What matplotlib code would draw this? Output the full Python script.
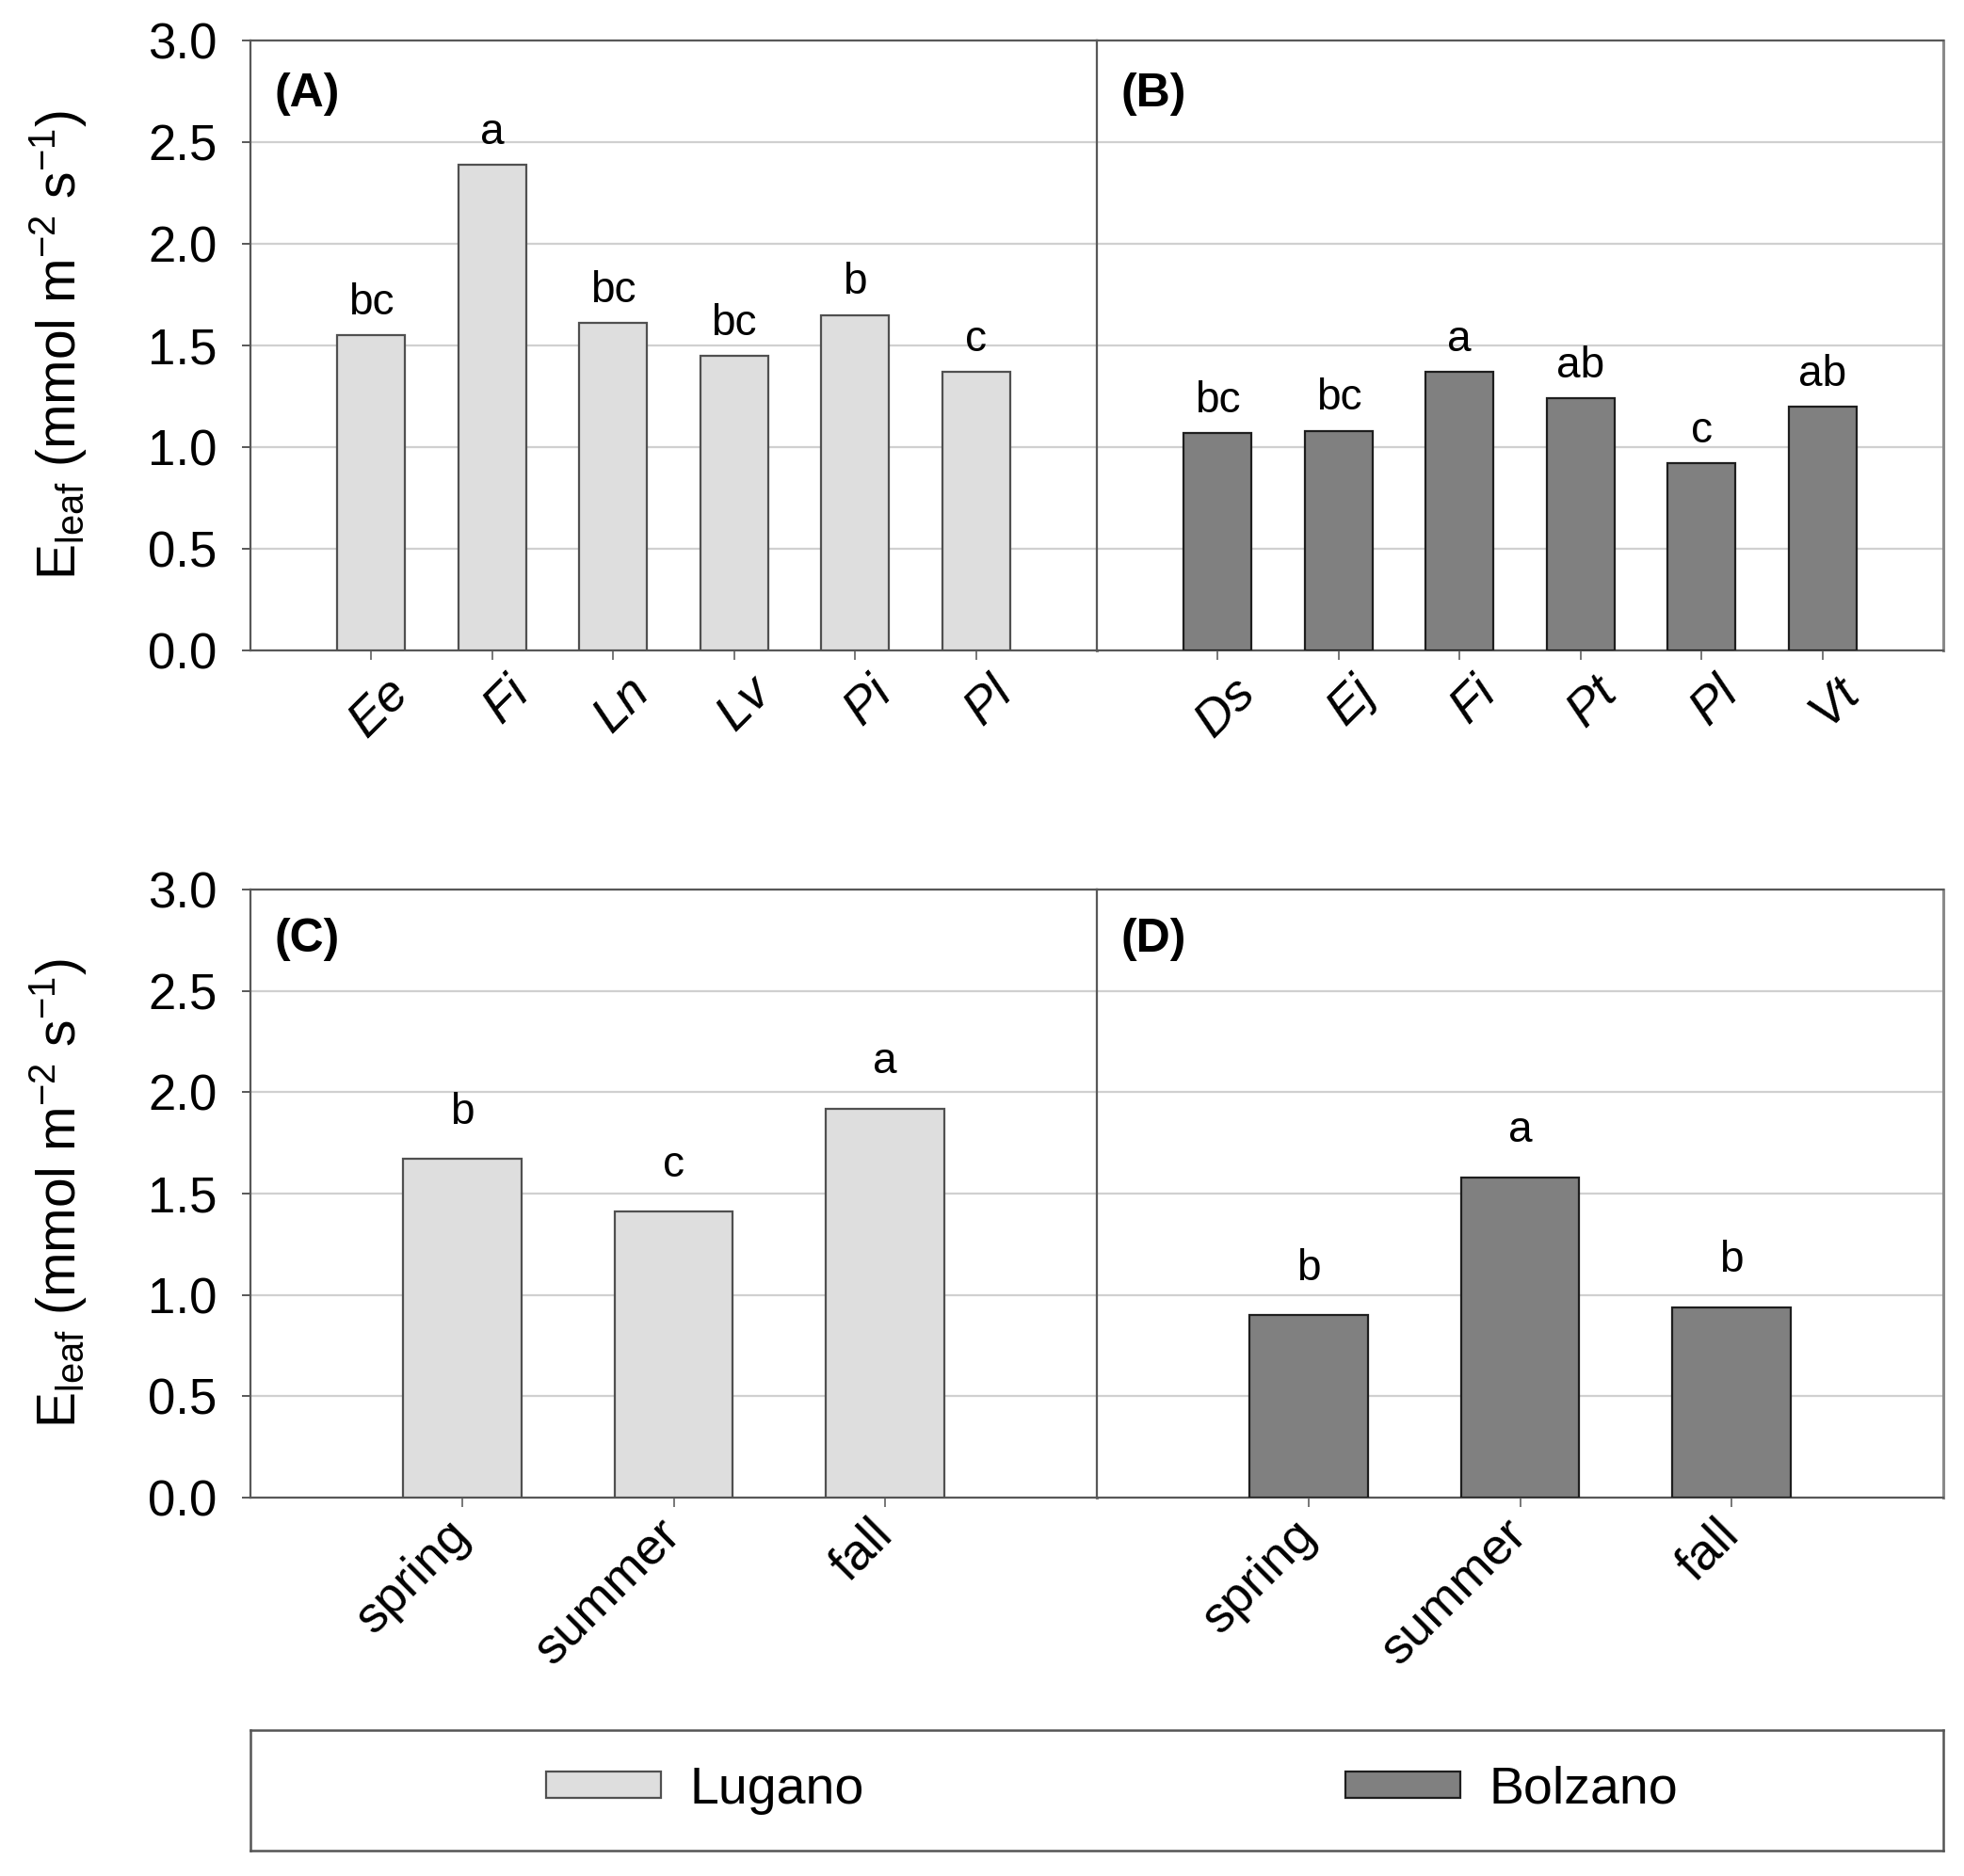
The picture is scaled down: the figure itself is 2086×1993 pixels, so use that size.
import matplotlib
matplotlib.use("Agg")
import matplotlib.pyplot as plt
import matplotlib.transforms as mtransforms
from matplotlib.patches import Patch

plt.rcParams['font.family'] = ['Liberation Sans', 'DejaVu Sans']
plt.rcParams['mathtext.fontset'] = 'custom'
plt.rcParams['mathtext.rm'] = 'Liberation Sans'
plt.rcParams['mathtext.it'] = 'Liberation Sans:italic'
plt.rcParams['mathtext.default'] = 'regular'

# ---- data ----
species_lugano = ["Ee", "Fi", "Ln", "Lv", "Pi", "Pl"]
eleaf_lugano_species = [1.55, 2.39, 1.61, 1.45, 1.65, 1.37]
letters_lugano_species = ["bc", "a", "bc", "bc", "b", "c"]

species_bolzano = ["Ds", "Ej", "Fi", "Pt", "Pl", "Vt"]
eleaf_bolzano_species = [1.07, 1.08, 1.37, 1.24, 0.92, 1.20]
letters_bolzano_species = ["bc", "bc", "a", "ab", "c", "ab"]

seasons = ["spring", "summer", "fall"]
eleaf_lugano_season = [1.67, 1.41, 1.92]
letters_lugano_season = ["b", "c", "a"]
eleaf_bolzano_season = [0.90, 1.58, 0.94]
letters_bolzano_season = ["b", "a", "b"]

panel_labels = ["(A)", "(B)", "(C)", "(D)"]
legend_labels = ["Lugano", "Bolzano"]
yticks = [0.0, 0.5, 1.0, 1.5, 2.0, 2.5, 3.0]

# ---- style ----
LIGHT = "#dedede"
DARK = "#808080"
LIGHT_EDGE = "#505050"
DARK_EDGE = "#1e1e1e"
SPINE = "#585858"
GRID = "#d0d0d0"

W, H = 2086, 1993
fig = plt.figure(figsize=(W / 100, H / 100), dpi=100)

def rect(x0, y0, x1, y1):
    return [x0 / W, 1 - y1 / H, (x1 - x0) / W, (y1 - y0) / H]

axA = fig.add_axes(rect(266, 43, 1165, 691))
axB = fig.add_axes(rect(1165, 43, 2064, 691))
axC = fig.add_axes(rect(266, 945, 1165, 1591))
axD = fig.add_axes(rect(1165, 945, 2064, 1591))
axL = fig.add_axes(rect(266, 1838, 2064, 1966))

ylabel = r'E$_{leaf}$ (mmol m$^{-2}$ s$^{-1}$)'

def style_axes(ax, show_y):
    ax.set_ylim(0, 3.0)
    ax.set_yticks(yticks)
    ax.yaxis.grid(True, color=GRID, linewidth=1.6)
    ax.set_axisbelow(True)
    for s in ax.spines.values():
        s.set_color(SPINE)
        s.set_linewidth(1.6)
    ax.spines['right'].set_color("#8a8a8a")
    ax.spines['right'].set_linewidth(2.2)
    ax.tick_params(axis='x', direction='out', length=7, width=1.4, color="#777777", pad=16)
    if show_y:
        ax.set_yticklabels([f"{v:.1f}" for v in yticks], fontsize=38)
        ax.tick_params(axis='y', direction='out', length=6.5, width=1.4, color=SPINE, pad=19, left=True)
        ax.set_ylabel(ylabel, fontsize=41)
        ax.yaxis.set_label_coords(-0.19, 0.5)
    else:
        ax.tick_params(axis='y', left=False, labelleft=False)

def draw_bars(ax, cats, vals, letters, fc, ec, off, italic, xmax, dx, dy):
    xs = list(range(len(cats)))
    ax.bar(xs, vals, width=0.56, color=fc, edgecolor=ec, linewidth=1.6, zorder=3)
    ax.set_xlim(-1, xmax)
    ax.set_xticks(xs)
    ax.set_xticklabels(cats, fontsize=39, rotation=45, ha='right', va='center',
                       rotation_mode='anchor', style='italic' if italic else 'normal')
    shift = mtransforms.ScaledTranslation(dx, dy, fig.dpi_scale_trans)
    for lab in ax.get_xticklabels():
        lab.set_transform(lab.get_transform() + shift)
    for x, v, t in zip(xs, vals, letters):
        ax.annotate(t, (x, v), xytext=(0, off), textcoords='offset points',
                    ha='center', va='baseline', fontsize=33)

style_axes(axA, True)
style_axes(axB, False)
style_axes(axC, True)
style_axes(axD, False)

draw_bars(axA, species_lugano, eleaf_lugano_species, letters_lugano_species, LIGHT, LIGHT_EDGE, 16, True, 6, 0.31, -0.05)
draw_bars(axB, species_bolzano, eleaf_bolzano_species, letters_bolzano_species, DARK, DARK_EDGE, 16, True, 6, 0.31, -0.05)
draw_bars(axC, seasons, eleaf_lugano_season, letters_lugano_season, LIGHT, LIGHT_EDGE, 27, False, 3, 0.0, 0.0)
draw_bars(axD, seasons, eleaf_bolzano_season, letters_bolzano_season, DARK, DARK_EDGE, 27, False, 3, 0.0, 0.0)

for ax, lab, yy in zip([axA, axB, axC, axD], panel_labels, [0.912, 0.912, 0.918, 0.918]):
    ax.text(0.028, yy, lab, transform=ax.transAxes, fontsize=36, fontweight='bold',
            ha='left', va='center')

# legend box
axL.set_xticks([])
axL.set_yticks([])
for s in axL.spines.values():
    s.set_color("#555555")
    s.set_linewidth(1.8)
handles = [Patch(facecolor=LIGHT, edgecolor=LIGHT_EDGE, linewidth=1.6),
           Patch(facecolor=DARK, edgecolor=DARK_EDGE, linewidth=1.6)]
axL.legend(handles, legend_labels, loc='center', bbox_to_anchor=(0.509, 0.5), ncol=2,
           frameon=False, fontsize=40, handlelength=2.2, handleheight=0.38,
           handletextpad=0.55, columnspacing=9.2)

fig.savefig("out.png", dpi=100)
